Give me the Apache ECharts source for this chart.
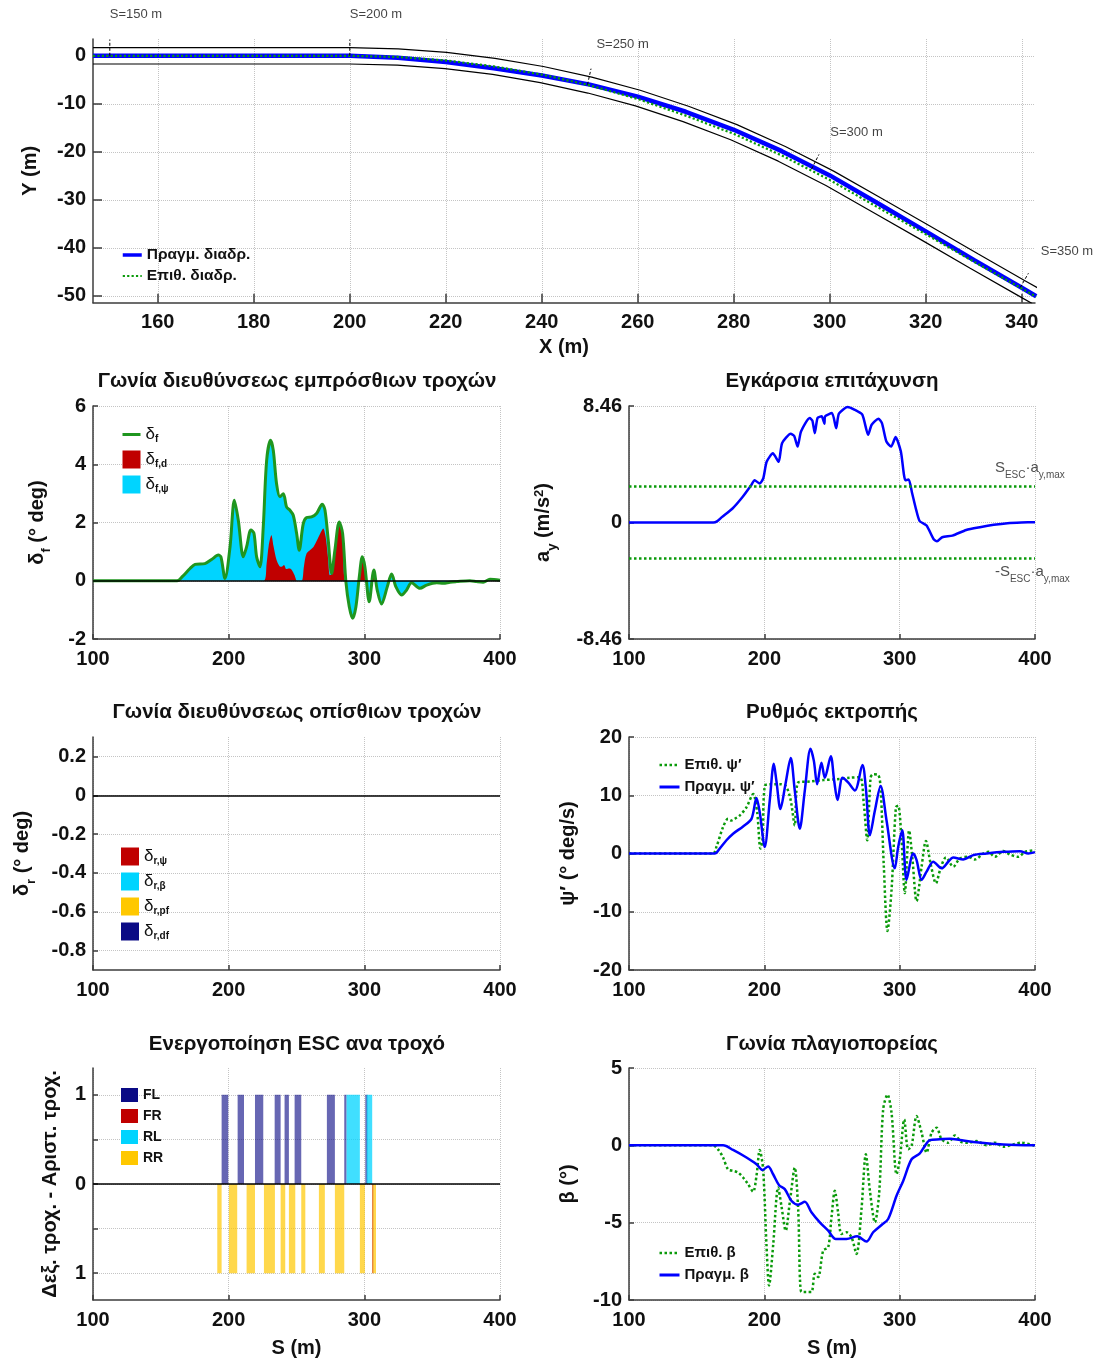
<!DOCTYPE html>
<html lang="el">
<head>
<meta charset="utf-8">
<title>ESC – πορεία και μεγέθη οχήματος</title>
<script src="https://cdn.jsdelivr.net/npm/echarts@6/dist/echarts.min.js"></script>
<style>
  html, body { margin: 0; padding: 0; background: #fff; }
  #chart { width: 1100px; height: 1365px; }
</style>
</head>
<body>
<div id="chart"></div>
<script>
// ---------------- data ----------------
// Road centreline samples in the X–Y plane (m); the road is straight from the origin up to X = 200
const roadX = [146.5, 160, 180, 200, 210, 220, 230, 240, 250, 260, 270, 280, 290, 300, 310, 320, 330, 340, 343];
const roadY = [0, 0, 0, 0, -0.24, -0.96, -2.2, -3.9, -6.1, -8.8, -12.1, -15.9, -20.4, -25.5, -31.2, -36.9, -42.7, -48.4, -50.1];
// Desired (reference) path and path actually followed, same X samples
const desiredY = [0, 0, 0, 0, -0.24, -0.96, -2.2, -3.9, -6.15, -9.0, -12.45, -16.25, -20.75, -25.85, -31.55, -37.15, -42.85, -48.45, -50.15];
const actualY = [0, 0, 0, 0, -0.39, -1.31, -2.6, -4.1, -6.0, -8.5, -11.65, -15.4, -19.85, -24.9, -30.7, -36.55, -42.5, -48.3, -50.05];
const laneHalfWidth = 1.7;              // m
const stations = [150, 200, 250, 300, 350]; // S marks along the road (m)

// Front steering angle and its yaw-control part (deg) vs S (m)
const deltaF = [[100,0],[162,0],[166,0.15],[171.5,0.42],[175.2,0.56],[182.5,0.59],[187.4,0.73],[192.4,0.88],[194.3,0.82],[197.3,0.08],[201,1.16],[204.2,2.76],[207.1,2.08],[210.8,0.82],[213.2,1.16],[216.4,1.74],[218.6,1.64],[220.6,0.82],[223.1,0.48],[225.5,1.85],[228,4.13],[230.9,4.82],[232.9,4.47],[235.3,3.33],[237.8,2.88],[240.3,2.99],[242.7,2.53],[245.2,2.42],[247.6,2.25],[250.1,1.62],[252,1.05],[255,1.96],[257.5,2.17],[261.1,2.19],[264.8,2.31],[269,2.63],[271,2.42],[273.4,1.39],[275.9,0.25],[278.3,1.05],[281.5,2.02],[284,1.62],[286.4,-0.03],[288.9,-0.89],[291.4,-1.29],[293.8,-0.89],[296.3,0.14],[298.5,0.82],[300.4,0.48],[303.6,-0.72],[307,0.37],[309.5,-0.32],[312.7,-0.8],[316.9,-0.21],[320.1,0.23],[323.3,-0.21],[327.5,-0.49],[331.1,-0.32],[334.8,-0.07],[341,-0.26],[345.9,-0.15],[353.3,-0.07],[358.2,-0.09],[363.1,-0.05],[368,-0.03],[377.8,0],[382.7,-0.03],[387.6,-0.05],[392.6,0.05],[400,0.02]];
const deltaFd = [[100,0],[225.8,0],[228,0.6],[229.5,1.2],[231.5,1.56],[233,1.2],[235.3,0.71],[237.5,0.5],[239,0.48],[240.8,0.54],[242.5,0.4],[244.7,0.42],[246.4,0.38],[248.5,0.2],[250.5,0],[253.8,0],[255.5,0.5],[257.5,0.94],[262.5,1.16],[267.5,1.62],[269.7,1.79],[271.5,1.5],[273.2,0.8],[274.6,0.19],[276,0.25],[278.3,1.05],[281.5,2.02],[284,1.62],[286.2,0],[296,0],[296.3,0.14],[298.5,0.82],[300.4,0.48],[301.8,0],[305.5,0],[307,0.37],[308.3,0],[400,0]];

// Lateral acceleration (m/s^2) and ESC threshold
const ayMax = 8.46;
const escThreshold = 2.62;
const ay = [[100,0],[162.3,0],[165,0.08],[168.6,0.39],[176.3,1.0],[183.9,1.85],[190.3,2.71],[192.8,3.07],[196.6,2.83],[199.2,3.2],[201.7,4.41],[206.3,5.02],[210.6,4.41],[213.1,5.76],[219.5,6.44],[222,6.3],[224.6,5.51],[227.1,6.61],[233.5,7.59],[235.5,7.4],[237.3,6.49],[239.3,7.59],[242.4,7.71],[244.4,7.17],[244.9,7.71],[250,7.95],[253.1,6.85],[255.1,7.9],[261.5,8.39],[266.5,8.2],[272.4,7.83],[276.7,6.37],[279.3,7.1],[284.3,7.54],[286.9,7.22],[290.2,5.88],[293.7,5.51],[297,6.2],[300.9,5.15],[304.2,3.07],[306.7,3.12],[309,2.22],[312.3,0.88],[314.8,0.1],[319.9,-0.22],[325,-1.2],[327.6,-1.37],[331.4,-1.07],[339,-0.95],[349.2,-0.54],[359.3,-0.34],[369.5,-0.17],[379.7,-0.05],[389.9,0],[400,0.02]];

// Rear steering components (deg) – all stay at zero in this run
const deltaRPsi = [[100,0],[400,0]];
const deltaRBeta = [[100,0],[400,0]];
const deltaRPf = [[100,0],[400,0]];
const deltaRDf = [[100,0],[400,0]];

// Yaw rate (deg/s): desired and actual
const psiDes = [[100,0],[162.1,0],[164.6,1.13],[169.5,4.53],[173.2,5.95],[175.7,5.67],[178.1,5.95],[181.8,6.52],[186.8,7.93],[191.7,10.2],[194.7,7.08],[197.1,0.85],[198.6,2.27],[200.3,11.6],[204,11.9],[211.4,11.9],[215.8,11.6],[219.3,9.35],[222.5,4.82],[225,12.2],[233.6,12.35],[243.5,12.6],[253.3,12.75],[263.2,13.0],[270.6,13.1],[273.5,8.5],[276,2.27],[278.5,13.0],[280.4,13.6],[284.1,13.5],[285.9,11.3],[288.3,-2.27],[291,-13.3],[294,-6.23],[297.2,7.93],[298.9,8.2],[301.4,2.27],[303.8,-6.8],[307,3.97],[309.5,-1.13],[312.5,-8.2],[316.2,-2.27],[319.4,2.15],[322.8,-1.7],[326.8,-5.1],[330.2,-2.55],[334.2,-0.68],[339.6,-2.27],[344.5,-0.85],[350.7,-0.57],[355.6,-1.02],[361.8,0],[365.5,0.28],[370.4,-0.57],[376.6,0.45],[381.5,-0.17],[387.6,-0.57],[392.6,0.28],[400,0.57]];
const psiAct = [[100,0],[163.3,0],[167,0.85],[172,2.27],[176.9,3.4],[184.3,4.65],[190.5,5.95],[194.2,9.52],[196.6,7.08],[200.3,1.13],[204,9.07],[207,15.4],[208.9,12.5],[211.9,7.65],[215.6,11.9],[219.5,16.4],[222.5,10.8],[226.2,4.25],[229.9,10.8],[234.1,18.0],[236.6,15.9],[239,11.9],[242.2,15.6],[244.7,13.0],[249.1,16.7],[251.6,12.5],[254.1,9.18],[257.8,13.0],[261.9,12.2],[266.9,10.8],[272.5,15.2],[275,11.3],[278,3.12],[281.7,7.37],[285.9,11.6],[290.3,5.67],[296.4,-2.55],[298.9,1.13],[301.9,3.97],[305.1,-4.53],[310,0],[312.5,-1.13],[316.2,-4.53],[319.9,-3.12],[324.8,-1.42],[331,-2.55],[335.9,-1.42],[339.6,-0.68],[347,-1.02],[354.4,-0.28],[364.2,0],[376.6,0.28],[388.9,0.4],[395,0],[400,0.23]];

// Sideslip angle (deg): desired and actual
const betaDes = [[100,0],[162.1,0],[165.8,-0.26],[169.5,-0.79],[173.2,-1.55],[176.9,-1.65],[180.6,-1.76],[184.3,-2.08],[188,-2.51],[191.7,-3.0],[194.2,-1.97],[196.6,-0.3],[199.1,-1.55],[201.6,-6.48],[203.5,-9.06],[206.5,-6.48],[210.2,-2.73],[212.6,-3.9],[215.8,-5.52],[218.8,-3.69],[222.5,-1.44],[225,-4.12],[227.4,-9.48],[231.1,-9.48],[234.8,-9.48],[237.3,-8.3],[239.8,-8.52],[243.5,-6.8],[247.2,-6.59],[249.6,-4.66],[252.1,-2.94],[254.5,-4.33],[257,-5.73],[260.7,-5.62],[264.4,-5.94],[268.1,-7.02],[271.8,-4.12],[275,-0.58],[278,-2.94],[281.7,-4.98],[284.9,-3.05],[287.8,2.32],[291,3.28],[294,2.1],[297.7,-1.87],[300.1,-0.9],[303.4,1.67],[306.3,-0.26],[308.8,-0.04],[312.5,1.89],[316.2,0.82],[319.9,-0.47],[323.6,0.82],[327.3,1.14],[331,0.39],[335.9,0.17],[340.8,0.64],[345.7,0.21],[350.7,0.17],[356.8,0.28],[364.2,0],[370.4,0.17],[376.6,-0.09],[384,0.06],[390.1,0.17],[400,-0.04]];
const betaAct = [[100,0],[169.5,0],[176.9,-0.3],[186.8,-0.79],[194.2,-1.22],[198.6,-1.59],[202.8,-1.37],[206.5,-1.87],[210.9,-2.58],[215.1,-2.83],[220,-3.58],[225,-3.84],[229.9,-3.65],[234.8,-4.33],[241,-4.98],[247.2,-5.52],[252.8,-6.05],[260.7,-6.05],[268.6,-5.88],[275.5,-6.22],[280.4,-5.62],[286.6,-5.15],[291.5,-4.76],[297.7,-3.26],[302.6,-2.3],[308.8,-0.9],[314.9,-0.52],[318.6,-0.04],[322.3,0.34],[329.7,0.39],[337.1,0.43],[344.5,0.34],[354.4,0.21],[364.2,0.13],[376.6,0.06],[400,0]];

// ESC activation intervals per wheel, [S start, S end] (m)
const escFL = [[194.8,199.7],[206.6,211.3],[219.4,225.5],[233.9,238.3],[241.2,244.4],[248.6,253.5],[272.4,278.3],[285.2,286.9],[300.7,302.4]];
const escFR = [[305.8,306.6]];
const escRL = [[286.9,296.7],[301.7,305.8]];
const escRR = [[191.6,194.8],[200.2,206.3],[213.2,219.4],[226,234.1],[238.3,241.7],[244.4,249.1],[253.5,256.5],[266.5,270.9],[278.3,285.2],[296.7,300.4],[305.8,308.6]];

// ---------------- styling ----------------
const FONT = '"Liberation Sans", Arial, Helvetica, sans-serif';
const INK = '#111111';
const AXIS_C = '#3c3c3c';
const GRID_C = '#c4c4c4';
const BLUE = '#0000ff';
const GREEN = '#0a9a0a';
const DF_GREEN = '#1f961f';
const RED = '#c00000';
const CYAN = '#00d4ff';
const NAVY = '#0a0a85';
const GOLD = '#ffc800';

const tickFont = { fontFamily: FONT, fontSize: 20, fontWeight: 'bold', color: INK };
const nameRich = {
  m: { fontFamily: FONT, fontSize: 20, fontWeight: 'bold', color: INK, lineHeight: 24, verticalAlign: 'top' },
  s: { fontFamily: FONT, fontSize: 13, fontWeight: 'bold', color: INK, lineHeight: 15, padding: [13, 0, 0, 0], verticalAlign: 'top' },
  u: { fontFamily: FONT, fontSize: 13, fontWeight: 'bold', color: INK, lineHeight: 15, verticalAlign: 'top' }
};
const legendRich = {
  d: { fontFamily: FONT, fontSize: 17, color: INK, lineHeight: 18, verticalAlign: 'top' },
  s: { fontFamily: FONT, fontSize: 10, fontWeight: 'bold', color: INK, lineHeight: 12, padding: [9, 0, 0, 0], verticalAlign: 'top' }
};
const axisLine = { show: true, onZero: false, lineStyle: { color: AXIS_C, width: 1.5 } };
function ticks(len, values) {
  const t = { show: true, inside: true, length: len, lineStyle: { color: AXIS_C, width: 1.5 } };
  if (values) t.customValues = values;
  return t;
}
const splitLine = { show: true, lineStyle: { color: GRID_C, type: 'dotted', width: 1 } };

// ---------------- geometry helpers ----------------
function zip(xs, ys) { return xs.map((x, i) => [x, ys[i]]); }

// polyline shifted sideways by d (positive = left of the direction of travel)
function offsetLine(xs, ys, d) {
  return xs.map((x, i) => {
    const a = Math.max(0, i - 1), b = Math.min(xs.length - 1, i + 1);
    const dx = xs[b] - xs[a], dy = ys[b] - ys[a], L = Math.hypot(dx, dy);
    return [x - dy / L * d, ys[i] + dx / L * d];
  });
}

// point and left normal at arc length s; the road runs straight from the origin to the first sample
function pointAtS(s) {
  let acc = Math.hypot(roadX[0], roadY[0]);
  for (let i = 1; i < roadX.length; i++) {
    const dx = roadX[i] - roadX[i - 1], dy = roadY[i] - roadY[i - 1], seg = Math.hypot(dx, dy);
    if (acc + seg >= s || i === roadX.length - 1) {
      const t = (s - acc) / seg;
      return { x: roadX[i - 1] + dx * t, y: roadY[i - 1] + dy * t, nx: -dy / seg, ny: dx / seg };
    }
    acc += seg;
  }
}

const stationTicks = stations.map(s => {
  const p = pointAtS(s), len = 3.4;
  return [p.x, p.y, p.x + p.nx * len, p.y + p.ny * len];
});
const stationLabels = stations.map(s => {
  const p = pointAtS(s), len = 8.6;
  return [p.x + p.nx * len, p.y + p.ny * len, 'S=' + s + ' m'];
});

function deltaName(name) {
  return name.charAt(0) === 'δ' ? '{d|δ}{s|' + name.slice(1) + '}' : name;
}

function escRender(dir, color, opacity) {
  return function (params, api) {
    const p0 = api.coord([api.value(0), 0]);
    const p1 = api.coord([api.value(1), dir]);
    return {
      type: 'rect',
      shape: { x: p0[0], y: Math.min(p0[1], p1[1]), width: Math.max(1, p1[0] - p0[0]), height: Math.abs(p1[1] - p0[1]) },
      style: { fill: color, opacity: opacity }
    };
  };
}

// ---------------- axes ----------------
function sAxis(gridIndex, named) {
  return {
    type: 'value', gridIndex, min: 100, max: 400, interval: 100,
    axisLine, axisTick: ticks(5), splitLine,
    axisLabel: Object.assign({ margin: 10 }, tickFont),
    name: named ? '{m|S (m)}' : '', nameLocation: 'middle', nameGap: 38,
    nameTextStyle: { rich: nameRich }
  };
}
function yAxisOf(gridIndex, cfg) {
  return Object.assign({
    type: 'value', gridIndex, axisLine, axisTick: ticks(5), splitLine,
    axisLabel: Object.assign({ margin: 7 }, tickFont),
    nameLocation: 'middle', nameTextStyle: { rich: nameRich }
  }, cfg);
}

const xTicksTop = [160, 180, 200, 220, 240, 260, 280, 300, 320, 340];
const yTicksTop = [-50, -40, -30, -20, -10, 0];

const xAxes = [
  {
    type: 'value', gridIndex: 0, min: 146.5, max: 342.75,
    axisLine, axisTick: ticks(9, xTicksTop), splitLine,
    axisLabel: Object.assign({ margin: 10, customValues: xTicksTop }, tickFont),
    name: '{m|X (m)}', nameLocation: 'middle', nameGap: 35, nameTextStyle: { rich: nameRich }
  },
  sAxis(1, false), sAxis(2, false), sAxis(3, false), sAxis(4, false), sAxis(5, true), sAxis(6, true)
];

const yAxes = [
  yAxisOf(0, {
    min: -51.4, max: 3.5, axisTick: ticks(9, yTicksTop),
    axisLabel: Object.assign({ margin: 7, customValues: yTicksTop }, tickFont),
    name: '{m|Y (m)}', nameGap: 49
  }),
  yAxisOf(1, { min: -2, max: 6, interval: 2, name: '{m|δ}{s|f}{m| (° deg)}', nameGap: 42 }),
  yAxisOf(2, {
    min: -ayMax, max: ayMax, axisTick: ticks(5, [-ayMax, 0, ayMax]),
    axisLabel: Object.assign({ margin: 7, customValues: [-ayMax, 0, ayMax], formatter: v => v === 0 ? '0' : v.toFixed(2) }, tickFont),
    name: '{m|a}{s|y}{m| (m/s}{u|2}{m|)}', nameGap: 72
  }),
  yAxisOf(3, {
    min: -0.9, max: 0.3, axisTick: ticks(5, [-0.8, -0.6, -0.4, -0.2, 0, 0.2]),
    axisLabel: Object.assign({ margin: 7, customValues: [-0.8, -0.6, -0.4, -0.2, 0, 0.2] }, tickFont),
    name: '{m|δ}{s|r}{m| (° deg)}', nameGap: 57
  }),
  yAxisOf(4, { min: -20, max: 20, interval: 10, name: '{m|ψ′ (° deg/s)}', nameGap: 47 }),
  yAxisOf(5, {
    min: -1.3, max: 1.3, axisTick: ticks(5, [-1, -0.5, 0, 0.5, 1]),
    axisLabel: Object.assign({ margin: 7, customValues: [-1, 0, 1], formatter: v => String(Math.abs(v)) }, tickFont),
    name: '{m|Δεξ. τροχ. - Αριστ. τροχ.}', nameGap: 29
  }),
  yAxisOf(6, { min: -10, max: 5, interval: 5, name: '{m|β (°)}', nameGap: 47 })
];

// ---------------- layout ----------------
const grids = [
  { left: 93, top: 39, width: 942, height: 263.7 },
  { left: 93, top: 406, width: 407, height: 233 },
  { left: 629, top: 406, width: 406, height: 233 },
  { left: 93, top: 737, width: 407, height: 233 },
  { left: 629, top: 737, width: 406, height: 233 },
  { left: 93, top: 1068, width: 407, height: 232 },
  { left: 629, top: 1068, width: 406, height: 232 }
];

const titleStyle = { fontFamily: FONT, fontSize: 20.5, fontWeight: 'bold', color: INK, lineHeight: 24 };
const titles = [
  ['Γωνία διευθύνσεως εμπρόσθιων τροχών', 297, 369],
  ['Εγκάρσια επιτάχυνση', 832, 369],
  ['Γωνία διευθύνσεως οπίσθιων τροχών', 297, 700],
  ['Ρυθμός εκτροπής', 832, 700],
  ['Ενεργοποίηση ESC ανα τροχό', 297, 1032],
  ['Γωνία πλαγιοπορείας', 832, 1032]
].map(([text, x, y]) => ({ text, left: x, top: y, textAlign: 'center', padding: 0, textStyle: titleStyle }));

// line entries in legends show only the stroke, no marker
function lineEntry(name, width) { return { name, itemStyle: { opacity: 0 }, lineStyle: { width } }; }
function boxEntry(name) { return { name, icon: 'rect' }; }

const plainLegendText = { fontFamily: FONT, fontSize: 15, fontWeight: 'bold', color: INK, lineHeight: 16 };
const legends = [
  { data: [lineEntry('Πραγμ. διαδρ.', 3.5), lineEntry('Επιθ. διαδρ.', 2.2)], left: 121, top: 247, itemWidth: 19, itemHeight: 12, itemGap: 5,
    textStyle: Object.assign({}, plainLegendText, { fontSize: 15.5 }) },
  { data: [lineEntry('δf', 3), boxEntry('δf,d'), boxEntry('δf,ψ')], left: 121, top: 425.5,
    itemWidth: 18, itemHeight: 18, itemGap: 6, formatter: deltaName, textStyle: { rich: legendRich } },
  { data: ['δr,ψ', 'δr,β', 'δr,pf', 'δr,df'].map(boxEntry), left: 121, top: 847.5,
    itemWidth: 18, itemHeight: 18, itemGap: 6, formatter: deltaName, textStyle: { rich: legendRich } },
  { data: [lineEntry('Επιθ. ψ′', 2.5), lineEntry('Πραγμ. ψ′', 3)], left: 658, top: 756.5, itemWidth: 20, itemHeight: 12, itemGap: 5,
    textStyle: Object.assign({}, plainLegendText, { lineHeight: 17 }) },
  { data: ['FL', 'FR', 'RL', 'RR'].map(boxEntry), left: 121, top: 1087, itemWidth: 17, itemHeight: 14, itemGap: 5,
    textStyle: Object.assign({}, plainLegendText, { fontSize: 14 }) },
  { data: [lineEntry('Επιθ. β', 2.5), lineEntry('Πραγμ. β', 3)], left: 658, top: 1244.5, itemWidth: 20, itemHeight: 12, itemGap: 5,
    textStyle: Object.assign({}, plainLegendText, { lineHeight: 17 }) }
].map(l => Object.assign({ orient: 'vertical', padding: 0, selectedMode: false }, l));

// ---------------- series ----------------
const zeroLine = {
  silent: true, symbol: ['none', 'none'], label: { show: false },
  lineStyle: { color: '#000', width: 1.5, type: 'solid' }, data: [{ yAxis: 0 }]
};
function line(name, gi, data, color, width, type, extra) {
  return Object.assign({
    name, type: 'line', xAxisIndex: gi, yAxisIndex: gi, data, showSymbol: false, symbol: 'none',
    smooth: 0.3, silent: true, itemStyle: { color }, lineStyle: { color, width, type: type || 'solid' }
  }, extra || {});
}
function area(name, gi, data, color, extra) {
  return Object.assign({
    name, type: 'line', xAxisIndex: gi, yAxisIndex: gi, data, showSymbol: false, symbol: 'none',
    smooth: 0.3, silent: true, itemStyle: { color }, lineStyle: { width: 0, opacity: 0 },
    areaStyle: { color, opacity: 1 }
  }, extra || {});
}

const series = [
  // road layout
  line('roadLeft', 0, offsetLine(roadX, roadY, laneHalfWidth), '#000', 1.2, 'solid', { smooth: false, z: 2 }),
  line('roadRight', 0, offsetLine(roadX, roadY, -laneHalfWidth), '#000', 1.2, 'solid', { smooth: false, z: 2 }),
  {
    name: 'stationTicks', type: 'custom', xAxisIndex: 0, yAxisIndex: 0, data: stationTicks, silent: true, z: 5,
    encode: { x: [0, 2], y: [1, 3] },
    renderItem: (p, api) => {
      const a = api.coord([api.value(0), api.value(1)]), b = api.coord([api.value(2), api.value(3)]);
      return { type: 'line', shape: { x1: a[0], y1: a[1], x2: b[0], y2: b[1] }, style: { stroke: '#000', lineWidth: 1, lineDash: [3, 2] } };
    }
  },
  {
    name: 'stationLabels', type: 'scatter', xAxisIndex: 0, yAxisIndex: 0, data: stationLabels, symbolSize: 0,
    clip: false, silent: true,
    label: { show: true, position: 'right', distance: 0, formatter: p => p.value[2], fontFamily: FONT, fontSize: 13, color: INK }
  },
  line('Πραγμ. διαδρ.', 0, zip(roadX, actualY), BLUE, 4.5, 'solid', { smooth: false, z: 3 }),
  line('Επιθ. διαδρ.', 0, zip(roadX, desiredY), GREEN, 2.2, 'dotted', { smooth: false, z: 4 }),

  // front steering
  area('δf,ψ', 1, deltaF, CYAN, { z: 2 }),
  area('δf,d', 1, deltaFd, RED, { z: 3 }),
  line('δf', 1, deltaF, DF_GREEN, 3, 'solid', { z: 4, markLine: zeroLine }),

  // lateral acceleration
  line('ay', 2, ay, BLUE, 2.5, 'solid', {
    smooth: 0.2, z: 4,
    markLine: {
      silent: true, symbol: ['none', 'none'], label: { show: false },
      lineStyle: { color: GREEN, width: 2.5, type: 'dotted' },
      data: [{ yAxis: escThreshold }, { yAxis: -escThreshold }]
    }
  }),
  {
    name: 'escLimitLabels', type: 'scatter', xAxisIndex: 2, yAxisIndex: 2, symbolSize: 0, clip: false, silent: true,
    data: [
      { value: [370.4, escThreshold], label: { offset: [0, -18], formatter: '{m|S}{s|ESC}{m|·a}{s|y,max}' } },
      { value: [370.4, -escThreshold], label: { offset: [0, 14], formatter: '{m|-S}{s|ESC}{m|·a}{s|y,max}' } }
    ],
    label: {
      show: true, position: 'right', distance: 0,
      rich: {
        m: { fontFamily: FONT, fontSize: 15, color: '#222', lineHeight: 17, verticalAlign: 'top' },
        s: { fontFamily: FONT, fontSize: 10, color: '#222', lineHeight: 11, padding: [10, 0, 0, 0], verticalAlign: 'top' }
      }
    }
  },

  // rear steering (inactive)
  area('δr,ψ', 3, deltaRPsi, RED, { markLine: zeroLine }),
  area('δr,β', 3, deltaRBeta, CYAN),
  area('δr,pf', 3, deltaRPf, GOLD),
  area('δr,df', 3, deltaRDf, NAVY),

  // yaw rate
  line('Επιθ. ψ′', 4, psiDes, GREEN, 2.5, 'dotted', { z: 3 }),
  line('Πραγμ. ψ′', 4, psiAct, BLUE, 2.5, 'solid', { z: 4 }),

  // ESC activation per wheel (left wheels up, right wheels down)
  { name: 'FL', type: 'custom', xAxisIndex: 5, yAxisIndex: 5, data: escFL, itemStyle: { color: NAVY }, silent: true, z: 3,
    encode: { x: [0, 1] }, renderItem: escRender(1, NAVY, 0.62), markLine: zeroLine },
  { name: 'FR', type: 'custom', xAxisIndex: 5, yAxisIndex: 5, data: escFR, itemStyle: { color: RED }, silent: true, z: 4,
    encode: { x: [0, 1] }, renderItem: escRender(-1, RED, 0.5) },
  { name: 'RL', type: 'custom', xAxisIndex: 5, yAxisIndex: 5, data: escRL, itemStyle: { color: CYAN }, silent: true, z: 3,
    encode: { x: [0, 1] }, renderItem: escRender(1, CYAN, 0.75) },
  { name: 'RR', type: 'custom', xAxisIndex: 5, yAxisIndex: 5, data: escRR, itemStyle: { color: GOLD }, silent: true, z: 3,
    encode: { x: [0, 1] }, renderItem: escRender(-1, GOLD, 0.7) },

  // sideslip angle
  line('Επιθ. β', 6, betaDes, GREEN, 2.5, 'dotted', { z: 3 }),
  line('Πραγμ. β', 6, betaAct, BLUE, 2.5, 'solid', { z: 4 })
];

const chart = echarts.init(document.getElementById('chart'), null, { renderer: 'canvas' });
chart.setOption({
  animation: false,
  backgroundColor: '#ffffff',
  textStyle: { fontFamily: FONT },
  title: titles,
  grid: grids,
  xAxis: xAxes,
  yAxis: yAxes,
  legend: legends,
  series: series
});
</script>
</body>
</html>
